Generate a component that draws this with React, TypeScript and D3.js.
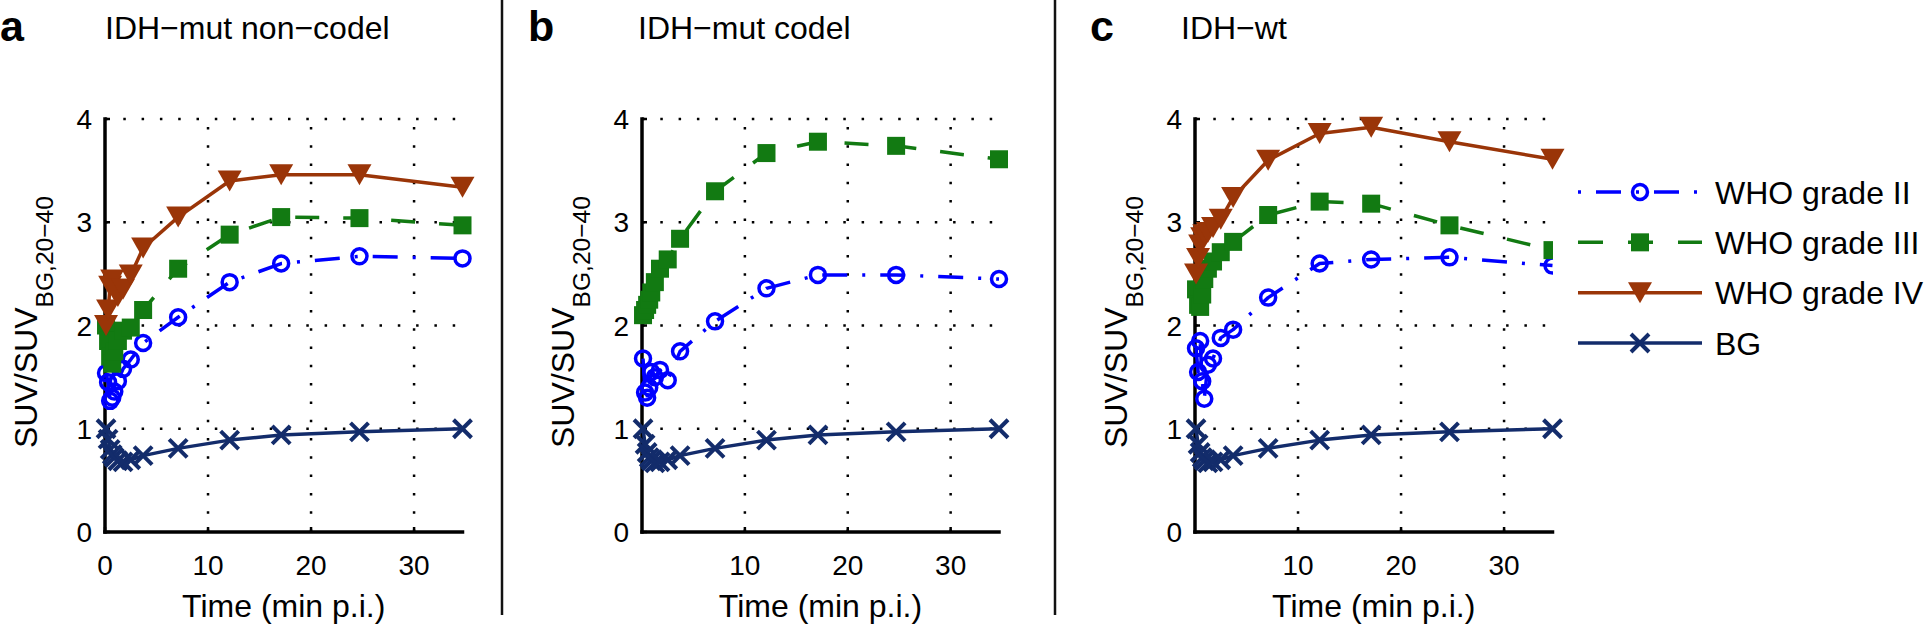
import React, { useRef, useEffect } from "react";
import * as d3 from "d3";

// frame mid-times (min p.i.)
const times = [0.1, 0.3, 0.5, 0.7, 0.9, 1.25, 1.75, 2.5, 3.7, 7.1, 12.1, 17.1, 24.7, 34.7];

// a: IDH-mut non-codel
const aGradeII = [1.54, 1.45, 1.27, 1.3, 1.36, 1.46, 1.58, 1.67, 1.83, 2.08, 2.42, 2.6, 2.67, 2.65];
const aGradeIII = [2.0, 1.85, 1.7, 1.63, 1.75, 1.85, 1.95, 1.98, 2.15, 2.55, 2.88, 3.05, 3.04, 2.97];
const aGradeIV = [2.0, 2.15, 2.38, 2.44, 2.35, 2.28, 2.35, 2.49, 2.75, 3.05, 3.4, 3.46, 3.46, 3.34];
const aBG = [1.0, 0.9, 0.8, 0.75, 0.72, 0.69, 0.68, 0.7, 0.74, 0.81, 0.89, 0.94, 0.97, 1.0];

// b: IDH-mut codel
const bGradeII = [1.68, 1.35, 1.3, 1.4, 1.55, 1.5, 1.57, 1.47, 1.75, 2.04, 2.36, 2.49, 2.49, 2.45];
const bGradeIII = [2.1, 2.15, 2.2, 2.25, 2.32, 2.42, 2.55, 2.64, 2.84, 3.3, 3.67, 3.78, 3.74, 3.61];
const bBG = [1.0, 0.85, 0.77, 0.72, 0.69, 0.67, 0.68, 0.7, 0.74, 0.81, 0.89, 0.94, 0.97, 1.0];

// c: IDH-wt
const cGradeII = [1.78, 1.55, 1.85, 1.46, 1.29, 1.62, 1.68, 1.88, 1.96, 2.27, 2.6, 2.64, 2.66, 2.58];
const cGradeIII = [2.35, 2.2, 2.18, 2.3, 2.45, 2.55, 2.62, 2.71, 2.81, 3.07, 3.2, 3.18, 2.97, 2.73];
const cGradeIV = [2.5, 2.65, 2.78, 2.85, 2.88, 2.9, 2.95, 3.03, 3.24, 3.6, 3.86, 3.92, 3.78, 3.61];
const cBG = [1.0, 0.85, 0.77, 0.72, 0.69, 0.67, 0.68, 0.7, 0.74, 0.81, 0.89, 0.94, 0.97, 1.0];

const yTicks = [0, 1, 2, 3, 4];
const legendLabels = ["WHO grade II", "WHO grade III", "WHO grade IV", "BG"];

const FONT = "'Liberation Sans', Arial, Helvetica, sans-serif";

const styles = {
  II: { color: "#0000ff", dash: "25 15 3 15", marker: "circle" },
  III: { color: "#127a12", dash: "24 24", marker: "square" },
  IV: { color: "#9a3508", dash: null, marker: "tri" },
  BG: { color: "#132c6b", dash: null, marker: "x" },
};

const panels = [
  { letter: "a", title: "IDH\u2212mut non\u2212codel", left: 105, right: 462.5, letterX: 0, titleX: 105,
    xTicks: [0, 10, 20, 30], series: [["II", aGradeII], ["III", aGradeIII], ["IV", aGradeIV], ["BG", aBG]] },
  { letter: "b", title: "IDH\u2212mut codel", left: 642, right: 999, letterX: 528, titleX: 638,
    xTicks: [10, 20, 30], series: [["II", bGradeII], ["III", bGradeIII], ["BG", bBG]] },
  { letter: "c", title: "IDH\u2212wt", left: 1195, right: 1552.5, letterX: 1090, titleX: 1181,
    xTicks: [10, 20, 30], series: [["II", cGradeII], ["III", cGradeIII], ["IV", cGradeIV], ["BG", cBG]] },
];

function drawMarker(g, kind, color, x, y) {
  if (kind === "circle") {
    g.append("circle").attr("cx", x).attr("cy", y).attr("r", 7.5)
      .attr("fill", "none").attr("stroke", color).attr("stroke-width", 3.5);
  } else if (kind === "square") {
    g.append("rect").attr("x", x - 9).attr("y", y - 9).attr("width", 18).attr("height", 18)
      .attr("fill", color);
  } else if (kind === "tri") {
    g.append("path").attr("d", `M${x - 12},${y - 10.5}L${x + 12},${y - 10.5}L${x},${y + 10.5}Z`)
      .attr("fill", color);
  } else {
    g.append("path").attr("d", `M${x - 9},${y - 9}L${x + 9},${y + 9}M${x - 9},${y + 9}L${x + 9},${y - 9}`)
      .attr("stroke", color).attr("stroke-width", 4).attr("fill", "none");
  }
}

const App = () => {
  const ref = useRef(null);

  useEffect(() => {
    const svg = d3.select(ref.current);
    svg.selectAll("*").remove();

    const yScale = d3.scaleLinear().domain([0, 4]).range([532, 119]);

    // dividers
    [502, 1055].forEach((x) => {
      svg.append("line").attr("x1", x).attr("x2", x).attr("y1", 0).attr("y2", 615)
        .attr("stroke", "#111").attr("stroke-width", 2.5);
    });

    panels.forEach((p) => {
      const xScale = d3.scaleLinear().domain([0, times[times.length - 1]]).range([p.left, p.right]);
      const g = svg.append("g");

      // panel letter + title
      g.append("text").attr("x", p.letterX).attr("y", 41).attr("font-family", FONT)
        .attr("font-weight", "bold").attr("font-size", 43).text(p.letter);
      g.append("text").attr("x", p.titleX).attr("y", 39).attr("font-family", FONT)
        .attr("font-size", 32).text(p.title);

      // dotted grid
      [1, 2, 3, 4].forEach((v) => {
        g.append("line").attr("x1", p.left).attr("x2", p.right)
          .attr("y1", yScale(v)).attr("y2", yScale(v))
          .attr("stroke", "#000").attr("stroke-width", 2.5).attr("stroke-dasharray", "2.5 15.8");
      });
      [10, 20, 30].forEach((v) => {
        g.append("line").attr("x1", xScale(v)).attr("x2", xScale(v))
          .attr("y1", yScale(0)).attr("y2", yScale(4))
          .attr("stroke", "#000").attr("stroke-width", 2.5).attr("stroke-dasharray", "2.5 15.8");
      });

      // axes
      g.append("line").attr("x1", p.left).attr("x2", p.left).attr("y1", yScale(0)).attr("y2", yScale(4))
        .attr("stroke", "#000").attr("stroke-width", 3.5).attr("stroke-linecap", "square");
      g.append("line").attr("x1", p.left).attr("x2", p.right).attr("y1", yScale(0)).attr("y2", yScale(0))
        .attr("stroke", "#000").attr("stroke-width", 3.5).attr("stroke-linecap", "square");

      // ticks + labels
      yTicks.forEach((v) => {
        g.append("line").attr("x1", p.left).attr("x2", p.left + 5).attr("y1", yScale(v)).attr("y2", yScale(v))
          .attr("stroke", "#000").attr("stroke-width", 2.5);
        g.append("text").attr("x", p.left - 13).attr("y", yScale(v) + 10)
          .attr("text-anchor", "end").attr("font-family", FONT).attr("font-size", 28).text(v);
      });
      p.xTicks.forEach((v) => {
        g.append("line").attr("x1", xScale(v)).attr("x2", xScale(v)).attr("y1", yScale(0)).attr("y2", yScale(0) - 5)
          .attr("stroke", "#000").attr("stroke-width", 2.5);
        g.append("text").attr("x", xScale(v)).attr("y", 575)
          .attr("text-anchor", "middle").attr("font-family", FONT).attr("font-size", 28).text(v);
      });

      // axis labels
      g.append("text").attr("x", (p.left + p.right) / 2).attr("y", 617)
        .attr("text-anchor", "middle").attr("font-family", FONT).attr("font-size", 32)
        .text("Time (min p.i.)");
      const yl = g.append("text")
        .attr("transform", `translate(${p.left - 68},322) rotate(-90)`)
        .attr("text-anchor", "middle").attr("font-family", FONT).attr("font-size", 32);
      yl.append("tspan").text("SUV/SUV");
      yl.append("tspan").attr("font-size", 24.6).attr("dy", 16).text("BG,20\u221240");

      // series
      const line = d3.line().x((d) => xScale(d[0])).y((d) => yScale(d[1]));
      p.series.forEach(([key, vals]) => {
        const s = styles[key];
        const pts = vals.map((v, i) => [times[i], v]);
        const path = g.append("path").datum(pts).attr("d", line)
          .attr("fill", "none").attr("stroke", s.color).attr("stroke-width", 3.5)
          .attr("stroke-linejoin", "round");
        if (s.dash) path.attr("stroke-dasharray", s.dash);
        pts.forEach((d) => drawMarker(g, s.marker, s.color, xScale(d[0]), yScale(d[1])));
      });
    });

    // legend (white box over panel c edge)
    const lg = svg.append("g");
    lg.append("rect").attr("x", 1553).attr("y", 175).attr("width", 373).attr("height", 195).attr("fill", "#fff");
    const legendScale = d3.scalePoint().domain(legendLabels).range([192, 343]);
    const keys = ["II", "III", "IV", "BG"];
    legendLabels.forEach((label, i) => {
      const s = styles[keys[i]];
      const y = legendScale(label);
      const l = lg.append("line").attr("x1", 1578).attr("x2", 1702).attr("y1", y).attr("y2", y)
        .attr("stroke", s.color).attr("stroke-width", 3.5);
      if (s.dash) l.attr("stroke-dasharray", keys[i] === "II" ? "3 15 25 15" : "25 25");
      drawMarker(lg, s.marker, s.color, 1640, y);
      lg.append("text").attr("x", 1715).attr("y", y + 11.5).attr("font-family", FONT)
        .attr("font-size", 32).text(label);
    });
  }, []);

  return (
    <svg ref={ref} width={1926} height={625}
      style={{ position: "absolute", left: 0, top: 0, background: "#fff" }}></svg>
  );
};

export default App;
